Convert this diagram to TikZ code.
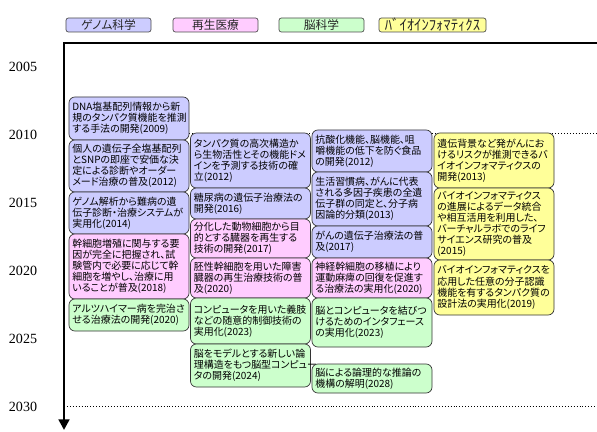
\documentclass[tikz,border=0pt]{standalone}
\usepackage{fontspec}
\setmainfont{Noto Sans CJK JP}[RawFeature=+palt]
\newfontfamily\yearfont{Liberation Serif}
\usetikzlibrary{arrows.meta}
\definecolor{genomecol}{HTML}{CCCCFF}
\definecolor{regencol}{HTML}{FFCCFF}
\definecolor{braincol}{HTML}{CCFFCC}
\definecolor{biocol}{HTML}{FFFF99}
\newcommand\boxfont{\fontsize{8.5pt}{9.5pt}\selectfont}
\newcommand\legendfont{\fontsize{10pt}{11pt}\selectfont}

\begin{document}
\begin{tikzpicture}[
    x=0.03cm, y=-0.03cm,
    item/.style={draw=black!80, line width=0.6pt, rounded corners=5pt, minimum width=3.6cm,
                 text width=3.4cm, inner xsep=0.1cm, inner ysep=1pt, align=left, font=\boxfont},
    genome/.style={item, fill=genomecol},
    regen/.style={item, fill=regencol},
    brain/.style={item, fill=braincol},
    bio/.style={item, fill=biocol},
    legend/.style={draw=black!70, line width=0.6pt, rounded corners=2pt, minimum height=0.42cm,
                   minimum width=2.55cm, inner sep=0pt, text=black!85, font=\legendfont},
    year/.style={font=\yearfont\fontsize{12pt}{13pt}\selectfont}
]
    \useasboundingbox (0,0) rectangle (597,432);

    % --- Legend ---
    \node[legend, fill=genomecol] (lgenome) at (108.5,25) {ゲノム科学};
    \node[legend, fill=regencol] (lregen) at (215.5,25) {再生医療};
    \node[legend, fill=braincol] (lbrain) at (321.5,25) {脳科学};
    \node[legend, fill=biocol, minimum width=3.21cm, font=\fontsize{12.5pt}{13pt}\selectfont] (lbio) at (432.5,25) {ﾊﾞｲｵｲﾝﾌｫﾏﾃｨｸｽ};

    % --- Time axis ---
    \coordinate (corner) at (64,43);
    \coordinate (topend) at (597,43);
    \coordinate (axisend) at (64,430);
    \foreach \yr [count=\i from 0] in {2005,2010,2015,2020,2025,2030}
        \node[year] (y\yr) at (23,{67+68*\i}) {\yr};
    \draw[dotted, line width=0.5pt] (69,133) -- (597,133);
    \draw[dotted, line width=0.5pt] (64,406) -- (597,406);
    \draw[line width=2.3pt, -{Triangle[length=9pt, width=9pt]}] (topend) -- (corner) -- (axisend);

    % --- Column 1 ---
    \node[genome, minimum height=1.29cm] (g1) at (129,118.5) {DNA塩基配列情報から新\\規のタンパク質機能を推測\\する手法の開発(2009)};
    \node[genome, minimum height=1.56cm] (g2) at (129,166) {個人の遺伝子全塩基配列\\とSNPの即座で安価な決\\定による診断やオーダー\\メード治療の普及(2012)};
    \node[genome, minimum height=1.26cm] (g3) at (129,213) {ゲノム解析から難病の遺\\伝子診断・治療システムが\\実用化(2014)};
    \node[regen, minimum height=1.95cm] (r1) at (129,266.5) {幹細胞増殖に関与する要\\因が完全に把握され、試\\験管内で必要に応じて幹\\細胞を増やし、治療に用\\いることが普及(2018)};
    \node[brain, minimum height=0.96cm] (b1) at (129,315) {アルツハイマー病を完治さ\\せる治療法の開発(2020)};

    % --- Column 2 ---
    \node[genome, minimum height=1.65cm] (g4) at (250.5,160.5) {タンパク質の高次構造か\\ら生物活性とその機能ドメ\\インを予測する技術の確\\立(2012)};
    \node[genome, minimum height=0.93cm] (g5) at (250.5,203.5) {糖尿病の遺伝子治療法の\\開発(2016)};
    \node[regen, minimum height=1.17cm] (r2) at (250.5,238.5) {分化した動物細胞から目\\的とする臓器を再生する\\技術の開発(2017)};
    \node[regen, minimum height=1.2cm] (r3) at (250.5,278) {胚性幹細胞を用いた障害\\臓器の再生治療技術の普\\及(2020)};
    \node[brain, minimum height=1.38cm] (b2) at (250.5,321) {コンピュータを用いた義肢\\などの随意的制御技術の\\実用化(2023)};
    \node[brain, minimum height=1.29cm] (b3) at (250.5,365.5) {脳をモデルとする新しい論\\理構造をもつ脳型コンピュー\\タの開発(2024)};

    % --- Column 3 ---
    \node[genome, minimum height=1.26cm] (g6) at (372,151) {抗酸化機能、脳機能、咀\\嚼機能の低下を防ぐ食品\\の開発(2012)};
    \node[genome, minimum height=1.62cm] (g7) at (372,199) {生活習慣病、がんに代表\\される多因子疾患の全遺\\伝子群の同定と、分子病\\因論的分類(2013)};
    \node[genome, minimum height=0.96cm] (g8) at (372,242) {がんの遺伝子治療法の普\\及(2017)};
    \node[regen, minimum height=1.2cm] (r4) at (372,278) {神経幹細胞の移植により\\運動麻痺の回復を促進す\\る治療法の実用化(2020)};
    \node[brain, minimum height=1.47cm] (b4) at (372,322.5) {脳とコンピュータを結びつ\\けるためのインタフェース\\の実用化(2023)};
    \node[brain, minimum height=0.87cm] (b5) at (372,378.5) {脳による論理的な推論の\\機構の解明(2028)};

    % --- Column 4 ---
    \node[bio, minimum height=1.65cm] (i1) at (494,160.5) {遺伝背景など発がんにお\\けるリスクが推測できるバ\\イオインフォマティクスの\\開発(2013)};
    \node[bio, minimum height=2.16cm] (i2) at (494,224) {バイオインフォマティクス\\の進展によるデータ統合\\や相互活用を利用した、\\バーチャルラボでのライフ\\サイエンス研究の普及\\(2015)};
    \node[bio, minimum height=1.65cm] (i3) at (494,287.5) {バイオインフォマティクスを\\応用した任意の分子認識\\機能を有するタンパク質の\\設計法の実用化(2019)};
\end{tikzpicture}
\end{document}
